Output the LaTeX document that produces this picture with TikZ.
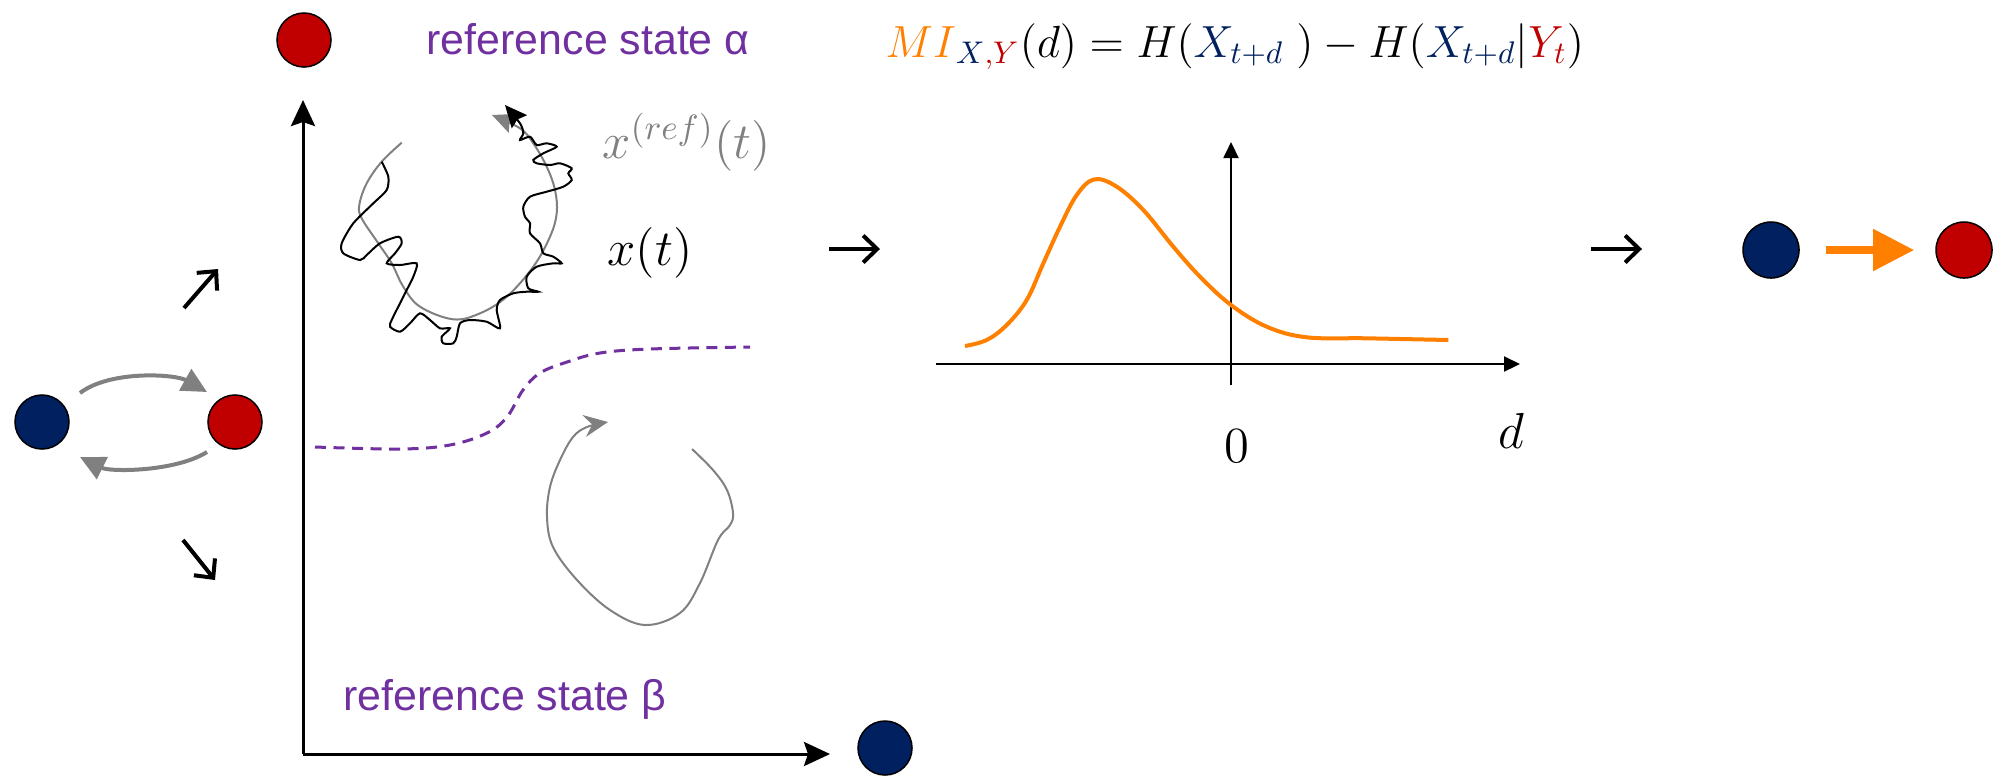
\documentclass[tikz,border=0pt]{standalone}
\usepackage{fontspec}
\setmainfont{Liberation Sans}
\usetikzlibrary{arrows.meta,calc}
\definecolor{mcRed}{RGB}{192,0,0}
\definecolor{mcBlue}{RGB}{0,32,96}
\definecolor{mcOrange}{RGB}{255,128,0}
\definecolor{mcPurple}{RGB}{112,48,160}
\definecolor{mcGray}{RGB}{128,128,128}
\begin{document}
\begin{tikzpicture}[x=0.01cm,y=-0.01cm,
  redball/.style={circle,draw=black,line width=0.15mm,fill=mcRed,minimum size=5.4mm,inner sep=0pt},
  blueball/.style={circle,draw=black,line width=0.15mm,fill=mcBlue,minimum size=5.4mm,inner sep=0pt},
  mainaxis/.style={line width=0.3mm,-{Stealth[length=2.6mm,width=2.4mm,inset=0.4mm]}},
  graphaxis/.style={line width=0.2mm,-{Triangle[length=1.6mm,width=1.5mm]}},
  flowarrow/.style={line width=0.4mm,-{Straight Barb[length=1.4mm,width=2.7mm]}},
  swaparrow/.style={draw=mcGray,line width=0.4mm,-{Triangle[length=2.5mm,width=2.4mm]}},
  reftext/.style={text=mcPurple,font=\fontsize{12.2}{14}\selectfont,inner sep=0pt},
  mathlabel/.style={font=\fontsize{14.4}{16}\selectfont,inner sep=0pt},
  trajgray/.style={draw=mcGray,line width=0.2mm},
  trajblack/.style={draw=black,line width=0.2mm},
]
\useasboundingbox (0,0) rectangle (2004,775);

% state balls
\node[redball] (ra) at (304,40) {};
\node[blueball] (bb) at (885,748) {};
\node[blueball] (b1) at (42,422) {};
\node[redball] (r1) at (235,422) {};
\node[blueball,minimum size=5.6mm] (b2) at (1771,250) {};
\node[redball,minimum size=5.6mm] (r2) at (1964,250) {};

% left swap arrows
\draw[swaparrow] ($(b1)+(38,-29)$) .. controls +(30,-23) and +(-32,-18) .. ($(r1)+(-28,-30)$);
\draw[swaparrow] ($(r1)+(-28,30)$) .. controls +(-32,20) and +(30,15) .. ($(b1)+(38,35)$);

% diagonal flow arrows
\coordinate (d1s) at (184,308); \coordinate (d1e) at (218,269);
\coordinate (d2s) at (183,540); \coordinate (d2e) at (215,580);
\draw[flowarrow] (d1s) -- (d1e);
\draw[flowarrow] (d2s) -- (d2e);

% main axes
\coordinate (o) at (303,754);
\coordinate (ytip) at (303,100);
\coordinate (xtip) at (830,754);
\draw[mainaxis] (o) -- (ytip);
\draw[mainaxis] (o) -- (xtip);

% reference state labels
\node[reftext,anchor=base west] (ta) at (426,54) {reference state α};
\node[reftext,anchor=base west] (tb) at (343,710) {reference state β};

% reference trajectory (upper)
\draw[trajgray,-{Stealth[length=2.2mm,width=2mm,inset=0.3mm]}] plot[smooth,tension=0.6] coordinates {
(401.7,142.7) (381.7,161.7) (366.7,183.3) (359.3,205) (361.7,218.3) (378.3,243.3)
(391.7,263.3) (403.3,286.7) (420,306.7) (453.3,319.3) (480,313.3) (506.7,296.7)
(533.3,266.7) (550,236.7) (556.7,213.3) (555,190) (546.7,166.7) (533.3,143.3)
(520,128.3) (492,115)};

% noisy trajectory
\draw[trajblack,-{Stealth[length=2.2mm,width=2mm,inset=0.3mm]}] plot[smooth,tension=0.45] coordinates {
(381.7,161.7) (388.3,176.7) (386.7,190) (373.3,203.3) (353.3,223.3) (341.7,243.3)
(343.3,253.3) (360,260) (366.7,255) (380,243.3) (398.3,236.7) (401.7,243.3)
(395,253.3) (386.7,263.3) (400,265) (416.7,263.3) (413.3,276.7) (406.7,290)
(400,303.3) (391.7,320) (390,326.7) (400,331.7) (410,323.3) (420,313.3)
(430,320) (440,328.3) (450,328.3) (441.7,336.7) (443.3,343.3) (453.3,343.3)
(456.7,336.7) (460,323.3) (470,320) (486.7,321.7) (500,328.3) (496.7,310)
(500,300) (513.3,293.3) (526.7,291.7) (538.3,291.7) (528.3,288.3) (526.7,276.7)
(536.7,266.7) (553.3,263.3) (561.7,263.3) (553.3,256.7) (543.3,253.3) (540,243.3)
(530,233.3) (530,223.3) (525,216.7) (523.3,206.7) (530,196.7) (546.7,191.7)
(563.3,186.7) (571.7,180) (568.3,173.3) (571.7,168.3) (560,163.3) (550,165)
(536.7,163.3) (533.3,160) (543.3,153.3) (556.7,146.7) (546.7,143.3) (536.7,145)
(530,136.7) (520,140) (523.3,133.3) (520,123.3) (505,105)};

\node[mathlabel,text=mcGray,anchor=base west] (xref) at (602,158) {$x^{(ref)}(t)$};
\node[mathlabel,anchor=base west] (xt) at (607,265) {$x(t)$};

% separatrix
\draw[mcPurple,line width=0.3mm,dash pattern=on 1.1mm off 0.75mm] plot[smooth,tension=0.6] coordinates {
(315,447) (400,449) (450,445) (487,433) (507,417) (523,390) (540,373)
(567,362) (600,353) (650,349) (750,347)};

% lower reference loop
\draw[trajgray,-{Stealth[length=2.4mm,width=2.2mm,inset=0.8mm]}] plot[smooth,tension=0.6] coordinates {
(692,449) (713,470) (727,490) (733,513) (730,525) (718,540) (700,583) (680,613)
(645,625) (610,610) (577,580) (553,547) (547,517) (550,487) (560,460) (573,437)
(587,427) (608,422)};

% flow arrows to the right
\coordinate (f1s) at (829,249); \coordinate (f1e) at (880,249);
\coordinate (f2s) at (1591,249); \coordinate (f2e) at (1642,249);
\draw[flowarrow] (f1s) -- (f1e);
\draw[flowarrow] (f2s) -- (f2e);

% formula
\node[font=\fontsize{14.4}{16}\selectfont,inner sep=0pt,anchor=base west] (mi) at (885,57)
{\scalebox{0.89}{$\textcolor{mcOrange}{MI}_{\textcolor{mcBlue}{X}\textcolor{mcRed}{,Y}}(d) = H(\textcolor{mcBlue}{X_{t+d}}\;) - H(\textcolor{mcBlue}{X_{t+d}}|\textcolor{mcRed}{Y_t})$}};

% MI graph
\coordinate (gy0) at (1231,385); \coordinate (gyt) at (1231,142);
\coordinate (gx0) at (936,364); \coordinate (gxt) at (1520,364);
\draw[graphaxis] (gy0) -- (gyt);
\draw[graphaxis] (gx0) -- (gxt);
\draw[mcOrange,line width=0.4mm] plot[smooth,tension=0.6] coordinates {
(965,346) (986.7,340) (1006.7,325) (1026.7,300) (1043.3,263.3) (1060,226.7)
(1076.7,195) (1094.3,179.3) (1116.7,186.7) (1143.3,210) (1173.3,246.7)
(1200,276.7) (1231,305) (1266.7,326.7) (1306.7,337.3) (1366.7,338.3) (1448.3,340)};
\node[mathlabel,anchor=base] (zero) at (1237,462) {$0$};
\node[mathlabel,anchor=base] (dl) at (1511,448) {$d$};

% causal arrow
\draw[mcOrange,line width=0.8mm,-{Triangle[length=4.1mm,width=4mm]},shorten <=2.6mm,shorten >=2.1mm] (b2) -- (r2);
\end{tikzpicture}
\end{document}
